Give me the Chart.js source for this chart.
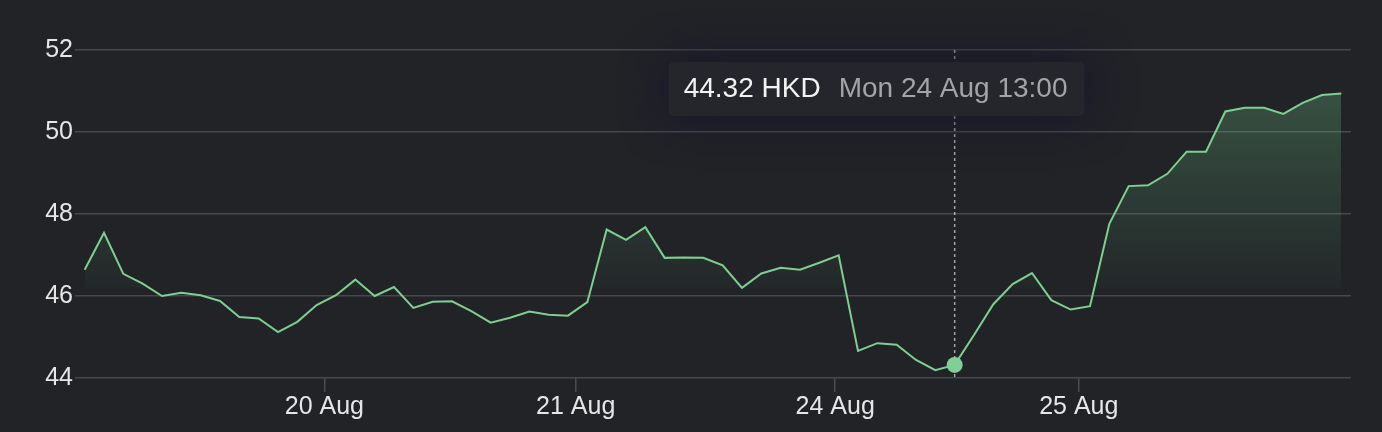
<!DOCTYPE html>
<html>
<head>
<meta charset="utf-8">
<script src="https://cdn.jsdelivr.net/npm/chart.js@4"></script>
<style>
  html, body { margin: 0; padding: 0; background: #212327; }
  #wrap { width: 1382px; height: 432px; }
</style>
</head>
<body>
<div id="wrap"><canvas id="c" width="1382" height="432"></canvas></div>
<script>
// ---- data ----
const prices = [
  46.64, 47.54, 46.54, 46.30, 46.00, 46.08, 46.02, 45.88, 45.49, 45.45, 45.12, 45.37, 45.78,
  46.02, 46.40, 46.00, 46.22, 45.71, 45.86, 45.87, 45.63, 45.35, 45.47, 45.62, 45.54, 45.52,
  45.85, 47.62, 47.37, 47.68, 46.93, 46.94, 46.93, 46.75, 46.20, 46.55, 46.69, 46.64, 46.81,
  46.99, 44.66, 44.85, 44.81, 44.44, 44.19, 44.32, 45.05, 45.80, 46.29, 46.56, 45.90, 45.67,
  45.75, 47.76, 48.68, 48.70, 48.98, 49.52, 49.52, 50.50, 50.59, 50.59, 50.44, 50.71, 50.90, 50.94
];
const dayTickLabels = ['20 Aug', '21 Aug', '24 Aug', '25 Aug'];
const dayTickPositions = [12.40, 25.40, 38.82, 51.42]; // in point-index units (midnight between sessions)
const yTickValues = [44, 46, 48, 50, 52];
const activeIndex = 45;
const activeValueLabel = '44.32 HKD';
const activeTimeLabel = 'Mon 24 Aug 13:00';
const fillBaseline = 46.18;

const FONT = "'Liberation Sans', Arial, Helvetica, sans-serif";
const points = prices.map((v, i) => ({ x: i, y: v }));

const overlay = {
  id: 'overlay',
  beforeDatasetsDraw(chart) {
    const { ctx, chartArea, scales } = chart;
    const px = scales.x.getPixelForValue(activeIndex);
    ctx.save();
    ctx.strokeStyle = 'rgba(195,197,200,0.8)';
    ctx.lineWidth = 1.5;
    ctx.setLineDash([3, 3]);
    ctx.beginPath();
    ctx.moveTo(px, chartArea.top);
    ctx.lineTo(px, chartArea.bottom);
    ctx.stroke();
    ctx.restore();
  },
  afterDatasetsDraw(chart) {
    const { ctx, scales } = chart;
    const px = scales.x.getPixelForValue(activeIndex);
    const py = scales.y.getPixelForValue(prices[activeIndex]);
    ctx.save();
    ctx.fillStyle = '#80d095';
    ctx.beginPath();
    ctx.arc(px, py, 8, 0, Math.PI * 2);
    ctx.fill();
    ctx.restore();
  },
  afterDraw(chart) {
    const { ctx, scales } = chart;
    const px = scales.x.getPixelForValue(activeIndex);
    ctx.save();
    ctx.font = '28px ' + FONT;
    const w1 = ctx.measureText(activeValueLabel).width;
    const w2 = ctx.measureText(activeTimeLabel).width;
    const padL = 15, gap = 18, padR = 17;
    const bw = padL + w1 + gap + w2 + padR;
    const bh = 54;
    const bx = px - 286;
    const by = 62;
    // halo
    ctx.shadowColor = 'rgba(22,18,48,0.85)';
    ctx.shadowBlur = 45;
    ctx.fillStyle = '#24262b';
    ctx.beginPath();
    ctx.roundRect(bx, by, bw, bh, 5);
    ctx.fill();
    ctx.shadowBlur = 0;
    ctx.shadowColor = 'transparent';
    ctx.fillStyle = '#24262b';
    ctx.beginPath();
    ctx.roundRect(bx, by, bw, bh, 5);
    ctx.fill();
    ctx.textBaseline = 'alphabetic';
    ctx.textAlign = 'left';
    ctx.fillStyle = '#f2f2f2';
    ctx.fillText(activeValueLabel, bx + padL, by + 35);
    ctx.fillStyle = '#a3a4a7';
    ctx.fillText(activeTimeLabel, bx + padL + w1 + gap, by + 35);
    ctx.restore();
  }
};

new Chart(document.getElementById('c'), {
  type: 'line',
  data: {
    datasets: [{
      data: points,
      borderColor: '#7fce92',
      borderWidth: 2,
      pointRadius: 0,
      pointHoverRadius: 0,
      tension: 0,
      fill: {
        target: { value: fillBaseline },
        above: (ctx) => {
          const chart = ctx.chart;
          const ca = chart.chartArea;
          if (!ca) return 'rgba(0,0,0,0)';
          const yb = chart.scales.y.getPixelForValue(fillBaseline);
          const g = chart.ctx.createLinearGradient(0, ca.top + 40, 0, yb);
          g.addColorStop(0, 'rgba(110,190,130,0.30)');
          g.addColorStop(1, 'rgba(110,190,130,0.03)');
          return g;
        },
        below: 'rgba(0,0,0,0)'
      }
    }]
  },
  options: {
    responsive: false,
    devicePixelRatio: 1,
    animation: false,
    events: [],
    layout: { padding: { top: 50, right: 31, left: 0, bottom: 0 } },
    plugins: { legend: { display: false }, tooltip: { enabled: false } },
    scales: {
      x: {
        type: 'linear',
        min: -0.5,
        max: 65.5,
        afterBuildTicks: (scale) => { scale.ticks = dayTickPositions.map(v => ({ value: v })); },
        afterFit: (scale) => { scale.height = 54; },
        ticks: {
          autoSkip: false,
          maxRotation: 0,
          padding: 0,
          color: '#e6e6e6',
          font: { family: FONT, size: 25 },
          callback: (v, i) => dayTickLabels[i]
        },
        grid: { drawOnChartArea: false, drawTicks: true, tickLength: 14, color: '#4a4c51', lineWidth: 1.5 },
        border: { display: false }
      },
      y: {
        min: 44,
        max: 52,
        afterBuildTicks: (scale) => { scale.ticks = yTickValues.map(v => ({ value: v })); },
        afterFit: (scale) => { scale.width = 75; },
        ticks: {
          padding: 2,
          color: '#e6e6e6',
          font: { family: FONT, size: 25 },
          callback: (v) => String(v)
        },
        grid: { drawTicks: false, color: '#46484d', lineWidth: 1.5 },
        border: { display: false }
      }
    }
  },
  plugins: [overlay]
});
</script>
</body>
</html>
